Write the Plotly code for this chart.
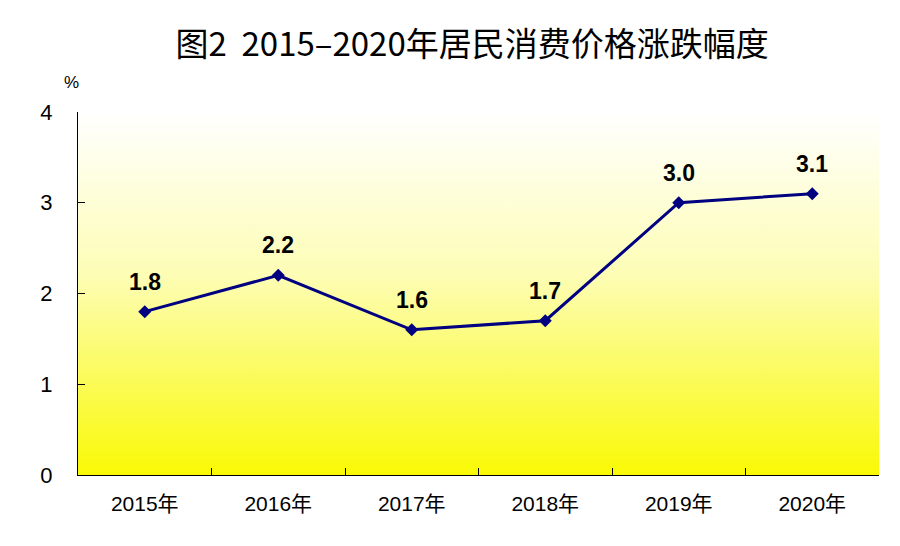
import base64
import plotly.graph_objects as go

years = ["2015年", "2016年", "2017年", "2018年", "2019年", "2020年"]
cpi_change = [1.8, 2.2, 1.6, 1.7, 3.0, 3.1]
y_ticks = [0, 1, 2, 3, 4]

NUM_FONT = "Arial, Liberation Sans, Noto Sans CJK SC"

# vertical white -> yellow gradient behind the plot area
svg = (
    '<svg xmlns="http://www.w3.org/2000/svg" width="10" height="100" preserveAspectRatio="none">'
    '<defs><linearGradient id="g" x1="0" y1="0" x2="0" y2="1">'
    '<stop offset="0" stop-color="#FFFFFF"/>'
    '<stop offset="0.45" stop-color="#FDFDB5"/>'
    '<stop offset="1" stop-color="#F9F905"/>'
    '</linearGradient></defs>'
    '<rect width="10" height="100" fill="url(#g)"/></svg>'
)
bg_src = "data:image/svg+xml;base64," + base64.b64encode(svg.encode()).decode()

fig = go.Figure()
fig.add_trace(go.Scatter(
    x=years, y=cpi_change, mode="lines+markers",
    line=dict(color="#000080", width=3),
    marker=dict(symbol="diamond", size=10, color="#000080"),
    hoverinfo="x+y", showlegend=False,
))

for yr, v in zip(years, cpi_change):
    fig.add_annotation(
        x=yr, y=v, text=f"<b>{v:.1f}</b>", showarrow=False, yshift=30,
        font=dict(family=NUM_FONT, size=23, color="black"),
    )

fig.add_annotation(
    xref="paper", yref="paper", x=-0.0075, y=1.08, text="%", showarrow=False,
    xanchor="center", yanchor="middle",
    font=dict(family=NUM_FONT, size=17, color="black"),
)

fig.add_layout_image(
    source=bg_src, xref="paper", yref="paper", x=0, y=1, sizex=1, sizey=1,
    xanchor="left", yanchor="top", sizing="stretch", layer="below",
)

fig.update_layout(
    width=900, height=546,
    margin=dict(l=70, r=29, t=104, b=79),
    paper_bgcolor="white", plot_bgcolor="rgba(0,0,0,0)",
    title=dict(
        text="图2  2015–2020年居民消费价格涨跌幅度",
        x=0.492, xref="paper", xanchor="center", y=0.934, yref="container", yanchor="middle",
        font=dict(family="Noto Sans CJK SC", size=33, color="black"),
    ),
    xaxis=dict(
        type="category", tickson="boundaries", ticks="inside", ticklen=7,
        tickcolor="black", showline=True, linecolor="black", linewidth=1,
        showgrid=False, zeroline=False, ticklabelstandoff=10,
        tickfont=dict(family=NUM_FONT, size=21, color="black"),
        range=[-0.5, 5.5],
    ),
    yaxis=dict(
        range=[0, 4], tickvals=y_ticks, ticks="inside", ticklen=7,
        tickcolor="black", showline=True, linecolor="black", linewidth=1,
        showgrid=False, zeroline=False, ticklabelstandoff=20,
        tickfont=dict(family=NUM_FONT, size=22, color="black"),
    ),
)

fig.write_html("out.html")
